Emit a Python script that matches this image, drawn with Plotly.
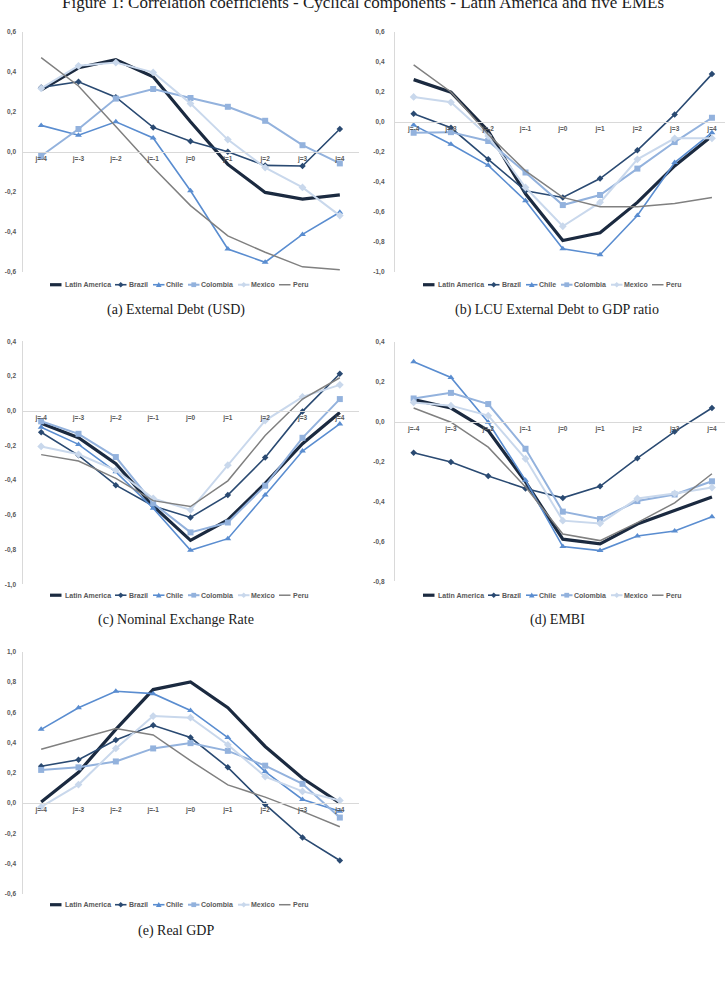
import plotly.graph_objects as go

W, H = 725, 997

LAGS = [-4, -3, -2, -1, 0, 1, 2, 3, 4]
LAG_LABELS = ["j=-4", "j=-3", "j=-2", "j=-1", "j=0", "j=1", "j=2", "j=3", "j=4"]
SERIES = ["Latin America", "Brazil", "Chile", "Colombia", "Mexico", "Peru"]

# (a) External Debt (USD)
a_latam = [0.31, 0.42, 0.46, 0.375, 0.15, -0.063, -0.203, -0.236, -0.215]
a_brazil = [0.322, 0.35, 0.273, 0.122, 0.053, 0.0, -0.068, -0.071, 0.114]
a_chile = [0.132, 0.083, 0.15, 0.069, -0.195, -0.486, -0.552, -0.413, -0.302]
a_colombia = [-0.021, 0.114, 0.266, 0.314, 0.269, 0.225, 0.155, 0.033, -0.058]
a_mexico = [0.317, 0.43, 0.446, 0.397, 0.241, 0.061, -0.079, -0.178, -0.319]
a_peru = [0.471, 0.329, 0.127, -0.079, -0.269, -0.42, -0.502, -0.575, -0.59]

# (b) LCU External Debt to GDP ratio
b_latam = [0.281, 0.197, -0.062, -0.48, -0.791, -0.74, -0.537, -0.294, -0.095]
b_brazil = [0.053, -0.04, -0.25, -0.46, -0.504, -0.378, -0.19, 0.049, 0.318]
b_chile = [-0.022, -0.15, -0.29, -0.526, -0.846, -0.886, -0.625, -0.272, -0.073]
b_colombia = [-0.073, -0.069, -0.128, -0.338, -0.555, -0.488, -0.312, -0.135, 0.027]
b_mexico = [0.166, 0.13, -0.095, -0.438, -0.696, -0.537, -0.25, -0.11, -0.11]
b_peru = [0.38, 0.199, -0.084, -0.327, -0.504, -0.566, -0.566, -0.544, -0.504]

# (c) Nominal Exchange Rate
c_latam = [-0.072, -0.156, -0.305, -0.549, -0.747, -0.629, -0.419, -0.19, -0.01]
c_brazil = [-0.124, -0.257, -0.429, -0.549, -0.615, -0.486, -0.27, -0.004, 0.213]
c_chile = [-0.095, -0.194, -0.352, -0.562, -0.804, -0.737, -0.486, -0.232, -0.076]
c_colombia = [-0.061, -0.133, -0.267, -0.533, -0.701, -0.644, -0.432, -0.156, 0.067]
c_mexico = [-0.206, -0.251, -0.343, -0.505, -0.571, -0.314, -0.057, 0.08, 0.149]
c_peru = [-0.253, -0.29, -0.39, -0.518, -0.552, -0.404, -0.143, 0.067, 0.19]

# (d) EMBI
d_latam = [0.11, 0.068, -0.045, -0.302, -0.589, -0.612, -0.513, -0.443, -0.377]
d_brazil = [-0.156, -0.202, -0.272, -0.335, -0.382, -0.324, -0.183, -0.05, 0.068]
d_chile = [0.3, 0.221, -0.003, -0.294, -0.626, -0.646, -0.573, -0.548, -0.476]
d_colombia = [0.116, 0.144, 0.088, -0.136, -0.451, -0.488, -0.398, -0.365, -0.299]
d_mexico = [0.096, 0.08, 0.03, -0.186, -0.496, -0.51, -0.385, -0.36, -0.33]
d_peru = [0.068, -0.003, -0.128, -0.327, -0.563, -0.596, -0.506, -0.407, -0.261]

# (e) Real GDP
e_latam = [0.007, 0.203, 0.487, 0.75, 0.80, 0.63, 0.374, 0.164, 0.0]
e_brazil = [0.243, 0.286, 0.417, 0.514, 0.433, 0.236, -0.009, -0.227, -0.38]
e_chile = [0.487, 0.63, 0.739, 0.723, 0.612, 0.433, 0.208, 0.024, -0.055]
e_colombia = [0.219, 0.236, 0.275, 0.361, 0.396, 0.345, 0.247, 0.127, -0.096]
e_mexico = [-0.026, 0.122, 0.361, 0.575, 0.564, 0.385, 0.175, 0.077, 0.017]
e_peru = [0.356, 0.422, 0.492, 0.45, 0.28, 0.12, 0.039, -0.055, -0.157]

a_ticks = [-0.6, -0.4, -0.2, 0.0, 0.2, 0.4, 0.6]
a_ticktext = ["-0,6", "-0,4", "-0,2", "0,0", "0,2", "0,4", "0,6"]
b_ticks = [-1.0, -0.8, -0.6, -0.4, -0.2, 0.0, 0.2, 0.4, 0.6]
b_ticktext = ["-1,0", "-0,8", "-0,6", "-0,4", "-0,2", "0,0", "0,2", "0,4", "0,6"]
c_ticks = [-1.0, -0.8, -0.6, -0.4, -0.2, 0.0, 0.2, 0.4]
c_ticktext = ["-1,0", "-0,8", "-0,6", "-0,4", "-0,2", "0,0", "0,2", "0,4"]
d_ticks = [-0.8, -0.6, -0.4, -0.2, 0.0, 0.2, 0.4]
d_ticktext = ["-0,8", "-0,6", "-0,4", "-0,2", "0,0", "0,2", "0,4"]
e_ticks = [-0.6, -0.4, -0.2, 0.0, 0.2, 0.4, 0.6, 0.8, 1.0]
e_ticktext = ["-0,6", "-0,4", "-0,2", "0,0", "0,2", "0,4", "0,6", "0,8", "1,0"]

CAPTIONS = ["(a) External Debt (USD)", "(b) LCU External Debt to GDP ratio",
            "(c) Nominal Exchange Rate", "(d) EMBI", "(e) Real GDP"]
TITLE = "Figure 1: Correlation coefficients - Cyclical components - Latin America and five EMEs"

# ---------------- styles ----------------
STYLE = {
    "Latin America": dict(color="#1b2a40", width=3.2, symbol=None, size=0),
    "Brazil": dict(color="#2a4a72", width=1.6, symbol="diamond", size=5),
    "Chile": dict(color="#5a8dd0", width=1.6, symbol="triangle-up", size=6),
    "Colombia": dict(color="#93b2dd", width=2.0, symbol="square", size=6),
    "Mexico": dict(color="#c9d8ec", width=2.0, symbol="diamond", size=6),
    "Peru": dict(color="#808080", width=1.5, symbol=None, size=0),
}
AXIS_COLOR = "#d9d9d9"
TICK_COLOR = "#595959"


def px_x(p):
    return p / W


def px_y(p):
    return 1 - p / H


panels = [
    dict(data=[a_latam, a_brazil, a_chile, a_colombia, a_mexico, a_peru],
         xpx=(22.5, 358.5), xr=(-4.5, 4.5), ypx=(28, 270), yr=(-0.6, 0.6),
         ticks=a_ticks, ticktext=a_ticktext, standoff=4,
         legend=(50, 283), caption=(176, 308)),
    dict(data=[b_latam, b_brazil, b_chile, b_colombia, b_mexico, b_peru],
         xpx=(395, 725), xr=(-4.5, 4.35), ypx=(28, 270), yr=(-1.0, 0.6),
         ticks=b_ticks, ticktext=b_ticktext, standoff=8,
         legend=(423, 283), caption=(557, 308)),
    dict(data=[c_latam, c_brazil, c_chile, c_colombia, c_mexico, c_peru],
         xpx=(22.5, 358.5), xr=(-4.5, 4.5), ypx=(340, 585), yr=(-1.0, 0.4),
         ticks=c_ticks, ticktext=c_ticktext, standoff=4,
         legend=(50, 596), caption=(176, 621)),
    dict(data=[d_latam, d_brazil, d_chile, d_colombia, d_mexico, d_peru],
         xpx=(395, 725), xr=(-4.5, 4.35), ypx=(340.5, 582), yr=(-0.8, 0.4),
         ticks=d_ticks, ticktext=d_ticktext, standoff=8,
         legend=(423, 596), caption=(557, 621)),
    dict(data=[e_latam, e_brazil, e_chile, e_colombia, e_mexico, e_peru],
         xpx=(22.5, 358.5), xr=(-4.5, 4.5), ypx=(653, 897), yr=(-0.6, 1.0),
         ticks=e_ticks, ticktext=e_ticktext, standoff=4,
         legend=(50, 908), caption=(176, 934)),
]

fig = go.Figure()
layout = dict(
    width=W, height=H, margin=dict(l=0, r=0, t=0, b=0),
    paper_bgcolor="white", plot_bgcolor="white", showlegend=False,
    font=dict(family="Liberation Sans", color=TICK_COLOR),
)
shapes = []
annotations = []

# legend item offsets (px) relative to legend origin: (key start, text start)
LEG_OFFSETS = [(0, 12.5), (65, 76.5), (103, 113.5), (138, 148.5), (188, 198.5), (229, 240.5)]
KEY_LEN = 11.5

for i, p in enumerate(panels):
    n = "" if i == 0 else str(i + 1)
    xa, ya = "x" + n, "y" + n
    y_top, y_bot = p["ypx"]
    ylo, yhi = p["yr"]
    zero_px = y_top + (yhi - 0) / (yhi - ylo) * (y_bot - y_top)

    for name, vals in zip(SERIES, p["data"]):
        st = STYLE[name]
        mode = "lines+markers" if st["symbol"] else "lines"
        fig.add_trace(go.Scatter(
            x=LAGS, y=vals, name=name, mode=mode, xaxis=xa, yaxis=ya,
            line=dict(color=st["color"], width=st["width"]),
            marker=dict(symbol=st["symbol"] or "circle", size=st["size"],
                        color=st["color"], line=dict(width=0)),
            cliponaxis=False,
        ))

    layout["xaxis" + n] = dict(
        domain=[px_x(p["xpx"][0]), px_x(p["xpx"][1])], range=list(p["xr"]),
        anchor="free", position=px_y(zero_px),
        showline=True, linecolor=AXIS_COLOR, linewidth=1.3,
        tickvals=LAGS, ticktext=LAG_LABELS, ticks="",
        tickfont=dict(size=6.5, color=TICK_COLOR, family="Liberation Sans", weight="bold"),
        showgrid=False, zeroline=False, fixedrange=True,
    )
    layout["yaxis" + n] = dict(
        domain=[px_y(y_bot), px_y(y_top)], range=[ylo, yhi], anchor=xa,
        showline=True, linecolor=AXIS_COLOR, linewidth=1.3,
        tickvals=p["ticks"], ticktext=p["ticktext"], ticks="",
        ticklabelstandoff=p["standoff"],
        tickfont=dict(size=6.5, color=TICK_COLOR, family="Liberation Sans", weight="bold"),
        showgrid=False, zeroline=False, fixedrange=True,
    )

    # custom compact legend
    lx, ly = p["legend"]
    for name, (ko, to) in zip(SERIES, LEG_OFFSETS):
        st = STYLE[name]
        x0, x1 = lx + ko, lx + ko + KEY_LEN
        shapes.append(dict(type="line", xref="paper", yref="paper",
                           x0=px_x(x0), x1=px_x(x1), y0=px_y(ly), y1=px_y(ly),
                           line=dict(color=st["color"], width=st["width"])))
        cx = (x0 + x1) / 2
        s = 2.8
        if st["symbol"] == "diamond":
            path = (f"M {px_x(cx)},{px_y(ly - s)} L {px_x(cx + s)},{px_y(ly)} "
                    f"L {px_x(cx)},{px_y(ly + s)} L {px_x(cx - s)},{px_y(ly)} Z")
        elif st["symbol"] == "triangle-up":
            path = (f"M {px_x(cx)},{px_y(ly - s)} L {px_x(cx + s)},{px_y(ly + s * 0.8)} "
                    f"L {px_x(cx - s)},{px_y(ly + s * 0.8)} Z")
        elif st["symbol"] == "square":
            q = 2.4
            path = (f"M {px_x(cx - q)},{px_y(ly - q)} L {px_x(cx + q)},{px_y(ly - q)} "
                    f"L {px_x(cx + q)},{px_y(ly + q)} L {px_x(cx - q)},{px_y(ly + q)} Z")
        else:
            path = None
        if path:
            shapes.append(dict(type="path", xref="paper", yref="paper", path=path,
                               fillcolor=st["color"], line=dict(width=0)))
        annotations.append(dict(
            x=px_x(lx + to), y=px_y(ly), xref="paper", yref="paper",
            xanchor="left", yanchor="middle", showarrow=False, text=name,
            font=dict(size=7, color=TICK_COLOR, family="Liberation Sans", weight="bold"),
        ))

    cx, cy = p["caption"]
    annotations.append(dict(
        x=px_x(cx), y=px_y(cy), xref="paper", yref="paper",
        xanchor="center", yanchor="middle", showarrow=False, text=CAPTIONS[i],
        font=dict(size=14, color="#1a1a1a", family="Liberation Serif"),
    ))

annotations.append(dict(
    x=px_x(363), y=px_y(-2), xref="paper", yref="paper",
    xanchor="center", yanchor="middle", showarrow=False, text=TITLE,
    font=dict(size=17, color="#1a1a1a", family="Liberation Serif"),
))

layout["shapes"] = shapes
layout["annotations"] = annotations
fig.update_layout(**layout)
fig.write_html("out.html")
